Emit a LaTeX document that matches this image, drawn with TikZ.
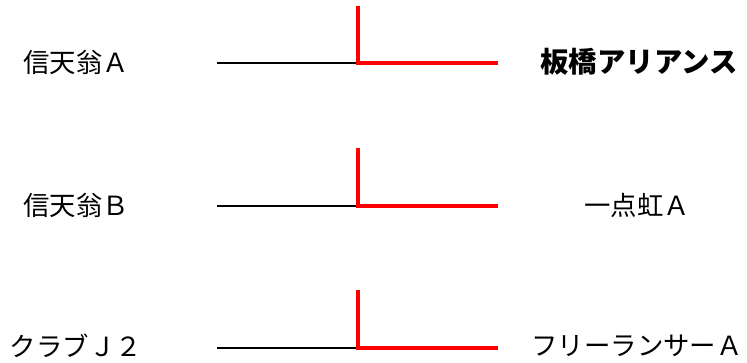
\documentclass[tikz,border=0pt]{standalone}
\usepackage{fontspec}
\setmainfont{Noto Sans CJK JP}
\definecolor{WinRed}{RGB}{255, 0, 0}
\usepackage{tikz}
\usetikzlibrary{positioning}

\begin{document}
\begin{tikzpicture}[
            x=1bp, y=-1bp,
            team/.style={inner sep=0pt, anchor=center, font=\fontsize{26.5}{30}\selectfont},
            champ/.style={team, font=\fontsize{28.5}{32}\selectfont\bfseries},
            lose/.style={line width=2bp, black},
            win/.style={line width=3.8bp, WinRed}
        ]
            \useasboundingbox (0,0) rectangle (747,362);

            % left side
            \node[team] (ta) at (76,62) {信天翁Ａ};
            \node[team] (tb) at (76,205) {信天翁Ｂ};
            \node[team] (tc) at (76,346) {クラブＪ２};

            % right side
            \node[champ] (wa) at (639,62) {板橋アリアンス};
            \node[team] (wb) at (637,205) {一点虹Ａ};
            \node[team] (wc) at (637,346) {フリーランサーＡ};

            % bracket points
            \coordinate (sa) at (217,63);
            \coordinate (ja) at (358,63);
            \coordinate (ua) at (358,6);
            \coordinate (ea) at (498,63);
            \coordinate (sb) at (217,206);
            \coordinate (jb) at (358,206);
            \coordinate (ub) at (358,148);
            \coordinate (eb) at (498,206);
            \coordinate (sc) at (217,348);
            \coordinate (jc) at (358,348);
            \coordinate (uc) at (358,290);
            \coordinate (ec) at (498,348);

            \draw[lose] (sa) -- (ja);
            \draw[lose] (sb) -- (jb);
            \draw[lose] (sc) -- (jc);
            \draw[win] (ua) |- (ea);
            \draw[win] (ub) |- (eb);
            \draw[win] (uc) |- (ec);
        \end{tikzpicture}
\end{document}
